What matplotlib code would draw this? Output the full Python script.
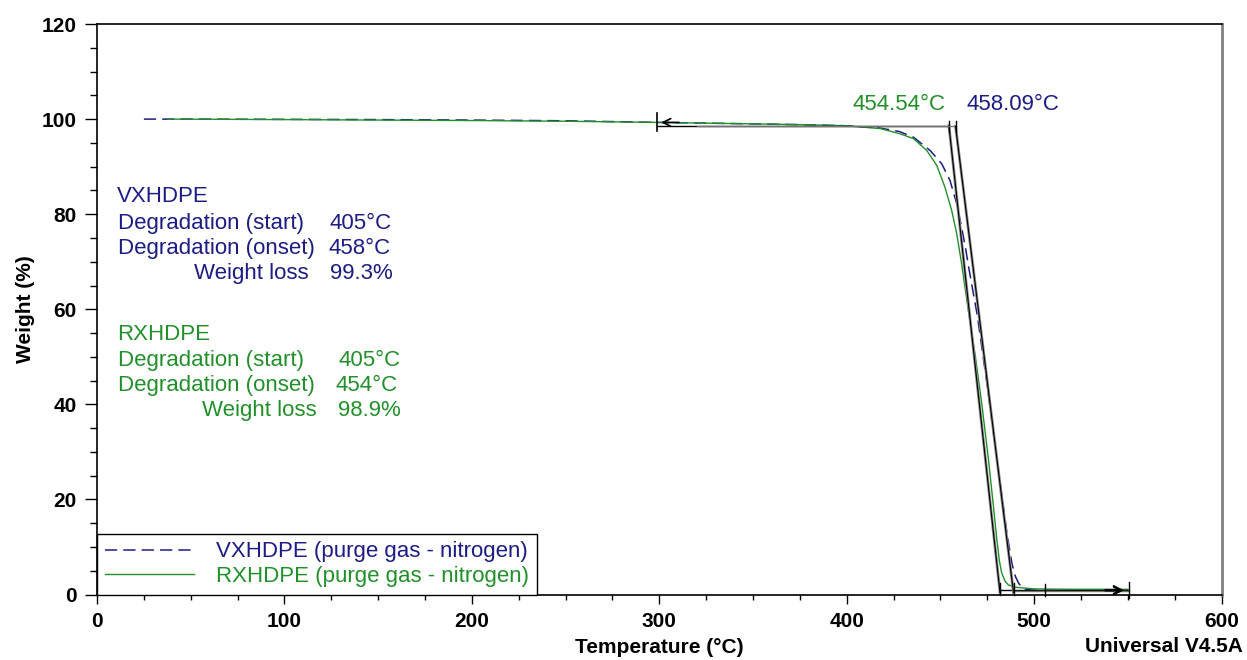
import numpy as np
import matplotlib.pyplot as plt
from matplotlib.ticker import MultipleLocator

plt.rcParams['font.family'] = ['Liberation Sans', 'DejaVu Sans']

# TGA curves: temperature (°C) and remaining weight (%)
vx_temp = [25, 50, 100, 150, 200, 250, 300, 350, 380, 400, 418, 428, 435.6, 444.5,
           450.7, 455.1, 458.7, 461.3, 463.6, 465.0, 467.5, 469.8, 472.3, 474.8,
           478.3, 481.9, 485.5, 488.1, 490.0, 491.7, 493.5, 495.2, 500, 520, 550]
vx_weight = [100.0, 100.0, 99.95, 99.9, 99.8, 99.65, 99.3, 99.0, 98.8, 98.6, 98.1, 97.4,
             96.2, 93.4, 90.6, 87.1, 82.2, 77.3, 72.4, 69.0, 63.5, 58.4, 51.4, 44.4,
             33.9, 23.4, 12.9, 6.6, 3.8, 2.4, 1.5, 1.1, 0.9, 0.8, 0.7]

rx_temp = [38, 100, 150, 200, 250, 300, 350, 380, 400, 418, 428.5, 435.6, 442.7, 448.0,
           452.4, 456.0, 458.7, 461.3, 464.1, 466.5, 468.5, 472.1, 475.6, 478.3,
           480.1, 481.5, 482.7, 484.5, 486.3, 490.7, 500, 520, 550]
rx_weight = [100.0, 99.9, 99.8, 99.7, 99.55, 99.3, 99.0, 98.8, 98.6, 98.0, 96.9, 95.9,
             93.4, 90.3, 85.7, 80.8, 75.9, 69.6, 61.9, 55.5, 50.5, 40.0, 28.5, 18.5,
             11.5, 7.0, 4.5, 2.8, 2.0, 1.5, 1.2, 1.1, 1.1]

# onset construction (extrapolated onset, end of tangent)
onset_temp = [454.54, 458.09]
tangent_end = [481.8, 489.0]
baseline_weight = [98.6, 98.45]
residue_weight = [1.0, 0.8]
range_start = 299.0
range_end = 550.5

navy = '#1c1c84'
green = '#22902a'

vx_summary = ['VXHDPE', 'Degradation (start)', 'Degradation (onset)', 'Weight loss']
vx_values = ['405°C', '458°C', '99.3%']
rx_summary = ['RXHDPE', 'Degradation (start)', 'Degradation (onset)', 'Weight loss']
rx_values = ['405°C', '454°C', '98.9%']

fig = plt.figure(figsize=(12.47, 6.6), dpi=100)
ax = fig.add_axes([0.0778, 0.0992, 0.9018, 0.8644])

ax.plot(vx_temp, vx_weight, color=navy, lw=1.1, dashes=(8, 4),
        label='VXHDPE (purge gas - nitrogen)')
ax.plot(rx_temp, rx_weight, color=green, lw=1.0,
        label='RXHDPE (purge gas - nitrogen)')

# baselines, tangents and markers
for t0, t1, wb, wr, c, xs in zip(onset_temp, tangent_end, baseline_weight,
                                 residue_weight, ['k', '0.45'], [range_start, 320]):
    ax.plot([xs, t0], [wb, wb], color=c, lw=1.0)
    ax.plot([t0, t1], [wb, 0.4], color='0.55', lw=2.0)
    ax.plot([t0, t1], [wb, 0.4], color='k', lw=0.8)
    ax.plot([t0, t0], [97.3, 99.7], color='k', lw=1.0)
    ax.plot([t1, range_end], [wr, wr], color=c, lw=1.0)
    ax.plot([t1, t1], [0, 2.4], color='k', lw=1.0, clip_on=False)
    ax.annotate('', xy=(range_end - 1.5, wr), xytext=(range_end - 14, wr),
                arrowprops=dict(arrowstyle='->', color='k', lw=1.2, mutation_scale=14))
ax.plot([506, 506], [-0.3, 2.2], color='k', lw=1.0, clip_on=False)
ax.plot([range_end, range_end], [-0.7, 2.6], color='k', lw=1.0, clip_on=False)
ax.plot([range_start, range_start], [97.6, 101.2], color='k', lw=1.2)
ax.annotate('', xy=(range_start + 0.5, 99.3), xytext=(range_start + 13, 99.3),
            arrowprops=dict(arrowstyle='->', color='k', lw=1.2, mutation_scale=14))

# onset temperature labels
ax.text(402.9, 103.0, f'{onset_temp[0]:.2f}°C', color=green, fontsize=16, va='center')
ax.text(463.7, 103.0, f'{onset_temp[1]:.2f}°C', color=navy, fontsize=16, va='center')

# summary blocks
for lines, values, col, ys, xs in [
        (vx_summary, vx_values, navy, [83.7, 78.1, 72.7, 67.5], [124.3, 123.3, 124.3]),
        (rx_summary, rx_values, green, [54.6, 49.3, 43.9, 38.8], [128.6, 127.5, 128.6])]:
    ax.text(10.7, ys[0], lines[0], color=col, fontsize=16, va='center')
    ax.text(11.2, ys[1], lines[1], color=col, fontsize=16, va='center')
    ax.text(11.2, ys[2], lines[2], color=col, fontsize=16, va='center')
    ax.text(xs[0] - 72.5, ys[3], lines[3], color=col, fontsize=16, va='center')
    for x, y, v in zip(xs, ys[1:], values):
        ax.text(x, y, v, color=col, fontsize=16, va='center')

ax.set_xlim(0, 600)
ax.set_ylim(0, 120)
ax.xaxis.set_major_locator(MultipleLocator(100))
ax.xaxis.set_minor_locator(MultipleLocator(25))
ax.yaxis.set_major_locator(MultipleLocator(20))
ax.yaxis.set_minor_locator(MultipleLocator(5))
ax.tick_params(which='both', direction='out', width=1.0, labelsize=15)
ax.tick_params(axis='x', which='major', length=6.5, pad=6)
ax.tick_params(axis='x', which='minor', length=3.5)
ax.tick_params(axis='y', which='major', length=8.5, pad=6)
ax.tick_params(axis='y', which='minor', length=5)
for lab in ax.get_xticklabels() + ax.get_yticklabels():
    lab.set_fontweight('bold')

for side in ['left', 'bottom', 'top']:
    ax.spines[side].set_color('k')
    ax.spines[side].set_linewidth(1.2)
ax.spines['right'].set_color('0.5')
ax.spines['right'].set_linewidth(2.0)

ax.set_xlabel('Temperature (°C)', fontsize=15, fontweight='bold')
ax.set_ylabel('Weight (%)', fontsize=15, fontweight='bold')
ax.xaxis.set_label_coords(0.5, -0.077)
ax.yaxis.set_label_coords(-0.055, 0.5)

leg = ax.legend(loc='lower left', bbox_to_anchor=(0, 0), borderaxespad=0,
                fontsize=16, labelcolor='linecolor', fancybox=False, framealpha=1,
                edgecolor='k', handlelength=4, handletextpad=1.0, borderpad=0.35,
                labelspacing=0.15)
leg.get_frame().set_linewidth(1.0)

fig.text(1243 / 1247, 1 - 646 / 660, 'Universal V4.5A', ha='right', va='center',
         fontsize=15, fontweight='bold')

fig.savefig('out.png', dpi=100)
